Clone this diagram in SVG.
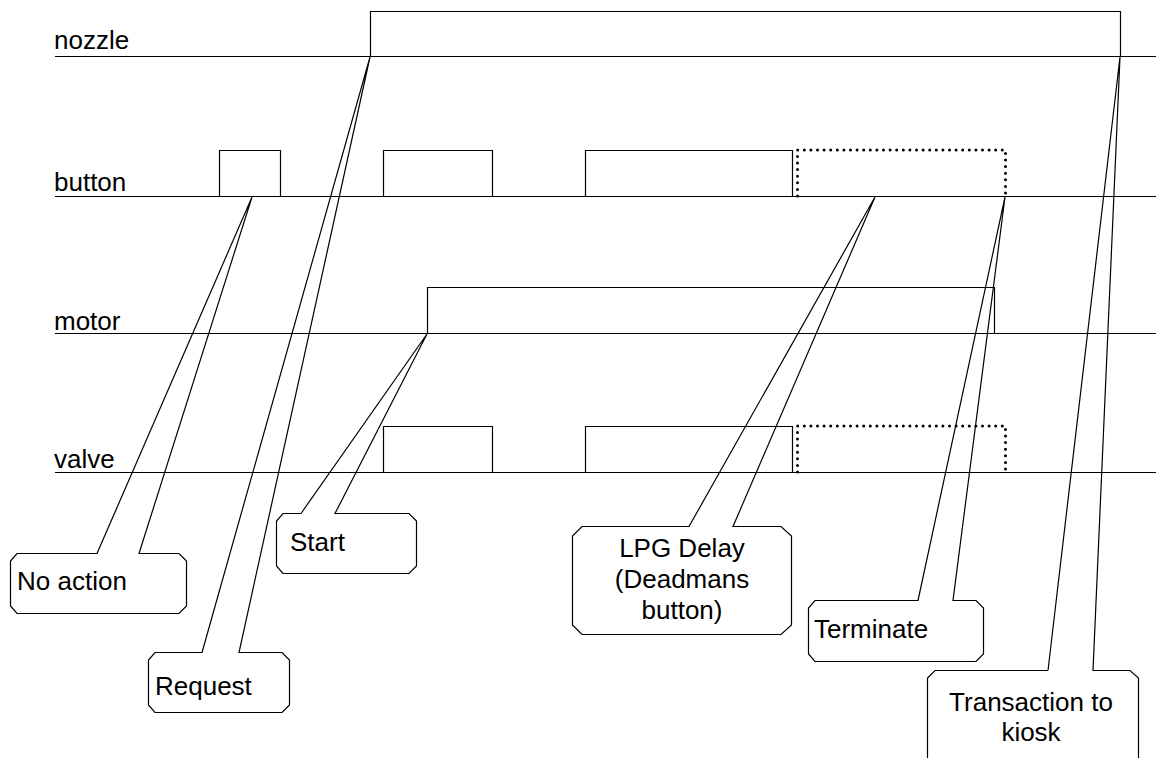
<svg xmlns="http://www.w3.org/2000/svg" width="1156" height="758" viewBox="0 0 1156 758">
  <style>
    .sig { fill: none; stroke: #000; stroke-width: 1.2; }
    .dot { fill: none; stroke: #000; stroke-width: 3; stroke-linecap: round; stroke-dasharray: 0 6.6; }
    .box { fill: none; stroke: #000; stroke-width: 1.2; stroke-linejoin: miter; }
    text { font-family: "Liberation Sans", Arial, sans-serif; font-size: 26px; fill: #000; }
  </style>
  <rect width="1156" height="758" fill="#fff"/>

  <!-- signal traces -->
  <g id="signals">
    <g id="nozzle">
      <text x="54" y="49">nozzle</text>
      <line class="sig" x1="55" y1="56.5" x2="1156" y2="56.5"/>
      <path class="sig" d="M370.5,56.5 V11.5 H1120.5 V56.5"/>
    </g>
    <g id="button">
      <text x="54" y="191">button</text>
      <line class="sig" x1="55" y1="196.5" x2="1156" y2="196.5"/>
      <path class="sig" d="M219.5,196.5 V150.5 H280.5 V196.5"/>
      <path class="sig" d="M383.5,196.5 V150.5 H492.5 V196.5"/>
      <path class="sig" d="M585.5,196.5 V150.5 H792.5 V196.5"/>
      <path class="dot" d="M797.5,196 V150 H1005.5 V196"/>
    </g>
    <g id="motor">
      <text x="54" y="330">motor</text>
      <line class="sig" x1="55" y1="333.5" x2="1156" y2="333.5"/>
      <path class="sig" d="M427.5,333.5 V287.5 H994.5 V333.5"/>
    </g>
    <g id="valve">
      <text x="54" y="468">valve</text>
      <line class="sig" x1="55" y1="472.5" x2="1156" y2="472.5"/>
      <path class="sig" d="M383.5,472.5 V426.5 H492.5 V472.5"/>
      <path class="sig" d="M585.5,472.5 V426.5 H792.5 V472.5"/>
      <path class="dot" d="M797.5,472 V426 H1005.5 V472"/>
    </g>
  </g>

  <!-- callout outlines with their pointer wedges -->
  <g id="connectors">
    <path id="c-noaction" class="box" d="M97,553.5 L252,197 L139,553.5 H179 L186.5,561 V606 L179,613.5 H17 L10.5,606 V561 L17,553.5 Z"/>
    <path id="c-request" class="box" d="M202,652.5 L370,57 L239,652.5 H282 L289.5,660 V705 L282,712.5 H155 L148.5,705 V660 L155,652.5 Z"/>
    <path id="c-start" class="box" d="M301,513.5 L427,334 L335,513.5 H409 L416.5,521 V566 L409,573.5 H283 L276.5,566 V521 L283,513.5 Z"/>
    <path id="c-lpg" class="box" d="M689,526.5 L875,197 L733,526.5 H781 L791.5,536 V625 L781,634.5 H582 L572.5,625 V536 L582,526.5 Z"/>
    <path id="c-terminate" class="box" d="M918,600.5 L1005,197 L953,600.5 H976 L983.5,608 V654 L976,661.5 H815 L808.5,654 V608 L815,600.5 Z"/>
    <path id="c-transaction" class="box" d="M1048,670.5 L1120,57 L1093,670.5 H1130 L1138.5,678 V770 M927.5,770 V678 L935,670.5 H1048"/>
  </g>

  <!-- callout labels -->
  <g id="noaction"><text x="17" y="590">No action</text></g>
  <g id="request"><text x="155" y="695">Request</text></g>
  <g id="start"><text x="290" y="551">Start</text></g>
  <g id="lpg" text-anchor="middle">
    <text x="682" y="557">LPG Delay</text>
    <text x="682" y="588">(Deadmans</text>
    <text x="682" y="619">button)</text>
  </g>
  <g id="terminate"><text x="814" y="638">Terminate</text></g>
  <g id="transaction" text-anchor="middle">
    <text x="1031" y="711">Transaction to</text>
    <text x="1031" y="741">kiosk</text>
  </g>
</svg>
